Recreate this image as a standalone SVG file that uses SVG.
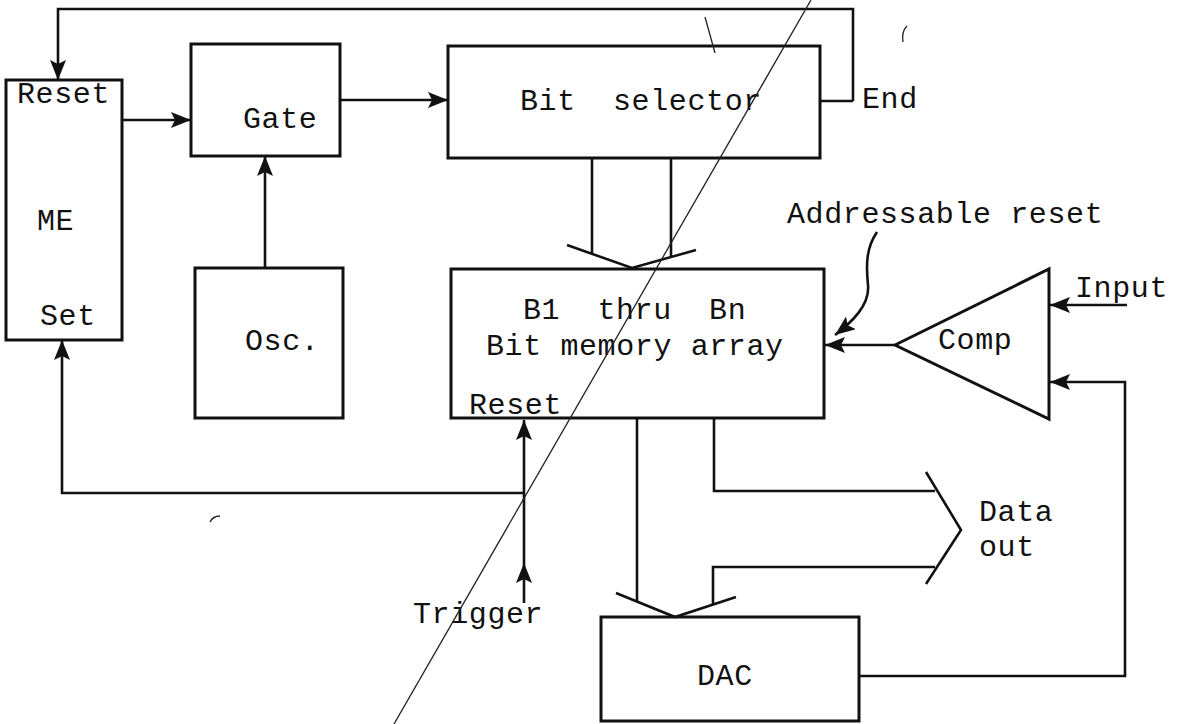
<svg xmlns="http://www.w3.org/2000/svg" width="1180" height="724" viewBox="0 0 1180 724">
<defs>
<style>
.box{fill:none;stroke:#111;stroke-width:3;stroke-linejoin:miter}
.ln{fill:none;stroke:#111;stroke-width:2.6;stroke-linejoin:miter}
.arr{marker-end:url(#ah)}
.t{font-family:"Liberation Mono","DejaVu Sans Mono",monospace;font-size:30px;letter-spacing:0.6px;fill:#111;white-space:pre}
.thin{fill:none;stroke:#222;stroke-width:1.3}
</style>
<marker id="ah" markerUnits="userSpaceOnUse" viewBox="0 0 20 16" markerWidth="20" markerHeight="16" refX="20" refY="8" orient="auto">
<path d="M0,0 L20,8 L0,16 L4,8 z" fill="#111"/>
</marker>
</defs>
<rect width="1180" height="724" fill="#fff"/>

<g id="connectors">
<path class="ln arr" d="M853,101 L853,9 L58,9 L58,80"/>
<path class="ln" d="M820,101 L853,101"/>
<path class="ln arr" d="M122,120 L191,120"/>
<path class="ln arr" d="M340,100 L448,100"/>
<path class="ln arr" d="M265,268 L265,156"/>
<path class="ln arr" d="M524,493 L62,493 L62,340"/>
<path class="ln arr" d="M524,603 L524,563"/>
<path class="ln arr" d="M524,563 L524,420"/>
<path class="ln" d="M592,158 L592,254 M671,158 L671,257"/>
<path class="ln" d="M567,245 L632,268 L696,250"/>
<path class="ln" d="M637,418 L637,602 M714,418 L714,491 L935,491 M713,604 L713,567 L935,567"/>
<path class="ln" d="M926,472 L961,530 L926,584"/>
<path class="ln" d="M616,593 L675,617 L736,597"/>
<path class="ln arr" d="M895,345 L825,345"/>
<path class="ln arr" d="M1127,305 L1050,305"/>
<path class="ln arr" d="M859,676 L1125,676 L1125,382 L1050,382"/>
<path class="ln arr" d="M877,232 C866,248 866,265 868,285 C870,305 852,322 835,335"/>
</g>

<g id="node-me">
<rect class="box" x="6" y="80" width="116" height="260"/>
<text class="t" x="17" y="103">Reset</text>
<text class="t" x="37" y="230">ME</text>
<text class="t" x="40" y="325">Set</text>
</g>
<g id="node-gate">
<rect class="box" x="191" y="44" width="149" height="112"/>
<text class="t" x="243" y="128">Gate</text>
</g>
<g id="node-osc">
<rect class="box" x="195" y="268" width="148" height="150"/>
<text class="t" x="245" y="350">Osc.</text>
</g>
<g id="node-bitselector">
<rect class="box" x="448" y="46" width="372" height="112"/>
<text class="t" x="520" y="110" xml:space="preserve">Bit  selector</text>
<text class="t" x="862" y="108">End</text>
</g>
<g id="node-memory">
<rect class="box" x="451" y="269" width="373" height="149"/>
<text class="t" x="523" y="319" xml:space="preserve">B1  thru  Bn</text>
<text class="t" x="486" y="355">Bit memory array</text>
<text class="t" x="469" y="414">Reset</text>
</g>
<g id="node-comp">
<path class="box" d="M895,345 L1049,269 L1049,419 z"/>
<text class="t" x="938" y="349">Comp</text>
<text class="t" x="1075" y="297">Input</text>
</g>
<g id="label-addressable">
<text class="t" x="787" y="223">Addressable reset</text>
</g>
<g id="node-dataout">
<text class="t" x="979" y="521">Data</text>
<text class="t" x="979" y="556">out</text>
</g>
<g id="node-dac">
<rect class="box" x="601" y="617" width="258" height="104"/>
<text class="t" x="697" y="685">DAC</text>
</g>
<g id="label-trigger">
<text class="t" x="413" y="623">Trigger</text>
</g>

<g id="scan-marks">
<path class="thin" d="M811,0 L394,724"/>
<path class="thin" d="M705,17 L715,53"/>
<path class="thin" d="M907,26 C903,30 902,36 903,42"/>
<path class="thin" d="M210,522 C212,518 215,516 220,516"/>
</g>
</svg>
